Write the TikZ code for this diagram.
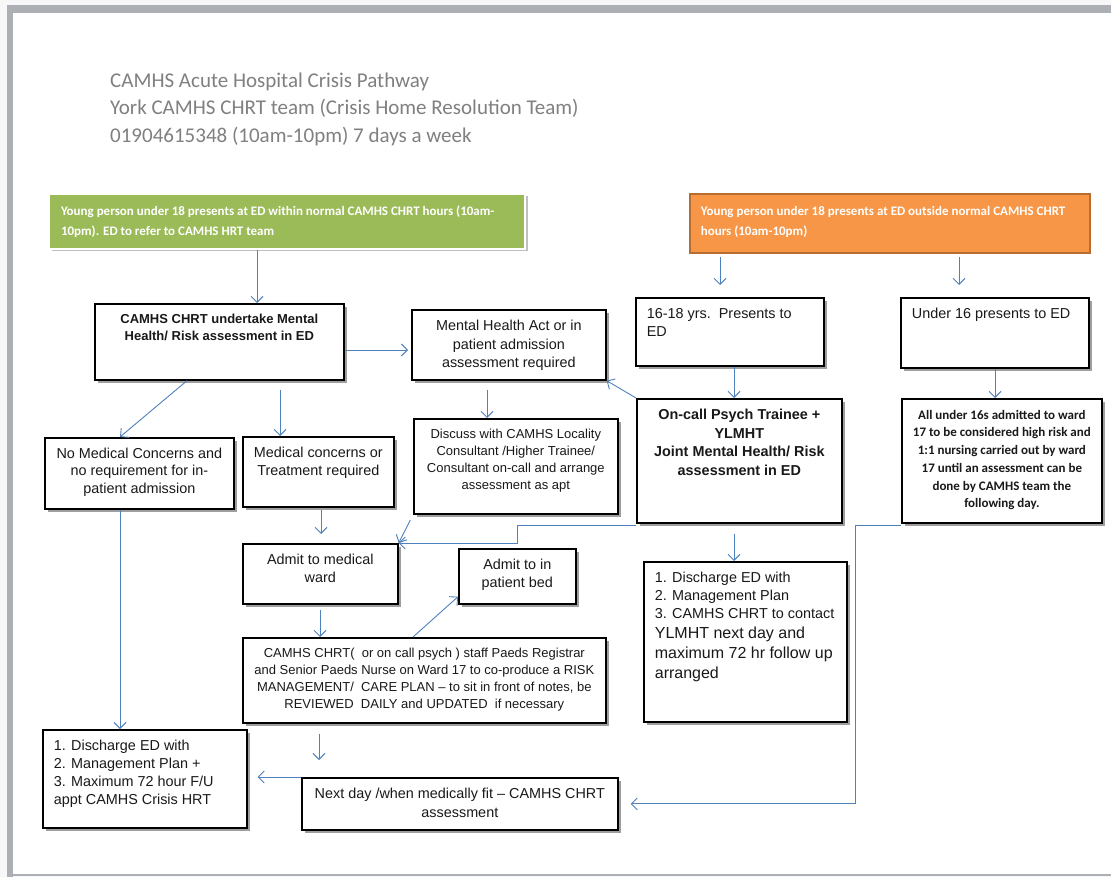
\documentclass[tikz,border=0pt]{standalone}
\usepackage{fontspec}
\setmainfont{Liberation Sans}
\newfontfamily\calibri{Carlito}
\usetikzlibrary{arrows.meta,shadows}

\definecolor{linkblue}{RGB}{79,129,189}
\definecolor{headgreen}{RGB}{155,187,89}
\definecolor{headorange}{RGB}{247,150,70}
\definecolor{orangeedge}{RGB}{182,109,49}
\definecolor{titlegray}{RGB}{128,128,128}
\definecolor{framegray}{RGB}{172,176,180}

% tekst w ramce: szerokosc, wysokosc, wyrownanie, tresc
\newcommand{\boxtext}[4]{\parbox[t][\dimexpr#2pt-16pt\relax][t]{\dimexpr#1pt-8pt\relax}{#3\strut#4}}
\newcommand{\lefttext}{\raggedright\leftskip=7pt\relax}

\tikzset{
    stepbox/.style={draw=black, line width=1.7pt, fill=white, anchor=north west,
        inner xsep=4pt, inner ysep=8pt, text=black!90,
        font=\fontsize{14.4}{18}\selectfont,
        general shadow={fill=black!38, shadow xshift=3pt, shadow yshift=-3pt}},
    headbox/.style={anchor=north west, inner xsep=4pt, inner ysep=8pt, text=white,
        font=\calibri\bfseries\fontsize{13}{20}\selectfont},
    link/.style={draw=linkblue, line width=0.9pt, -{Straight Barb[length=6pt,width=12pt]}},
}

\begin{document}
\begin{tikzpicture}[x=1pt, y=-1pt]
    % Ramka strony
    \useasboundingbox (0,0) rectangle (1111,877);
    \fill[gray!6] (0,0) rectangle (1111,877);
    \fill[white] (13,13) rectangle (1111,874);
    \fill[framegray] (7,5) rectangle (1111,13);
    \fill[framegray] (7,5) rectangle (13,877);
    \draw[framegray, line width=1.5pt] (13,875) -- (1111,875);
    % Tytul
    \node (title) [anchor=north west, inner sep=0pt, text=titlegray,
        font=\calibri\fontsize{21}{27.5}\selectfont] at (110,68)
        {\parbox[t]{520pt}{\strut CAMHS Acute Hospital Crisis Pathway\\
        York CAMHS CHRT team (Crisis Home Resolution Team)\\
        01904615348 (10am-10pm) 7 days a week}};
    % Naglowki
    \node (inhours) [headbox, fill=headgreen, draw=white, line width=2pt,
        general shadow={fill=black!25, shadow xshift=2.5pt, shadow yshift=-2.5pt}] at (48,193)
        {\boxtext{476}{55}{\raggedright\leftskip=8pt}{Young person under 18 presents at ED within normal CAMHS CHRT hours (10am-\\10pm). ED to refer to CAMHS HRT team}};
    \node (outhours) [headbox, fill=headorange, draw=orangeedge, line width=1.6pt] at (689,193)
        {\boxtext{400}{59}{\raggedright\leftskip=7pt}{Young person under 18 presents at ED outside normal CAMHS CHRT\\hours (10am-10pm)}};
    % Ramki
    \node (chrtassess) [stepbox, font=\bfseries\fontsize{13}{17}\selectfont] at (94,303)
        {\boxtext{249}{76}{\centering}{CAMHS CHRT undertake Mental\\Health/ Risk assessment in ED}};
    \node (mhact) [stepbox, font=\fontsize{14.4}{18.5}\selectfont] at (411,309)
        {\boxtext{194}{70}{\centering}{Mental Health Act or in\\patient admission\\assessment required}};
    \node (age1618) [stepbox] at (635,297)
        {\boxtext{188}{68}{\lefttext}{16-18 yrs.\ \ Presents to\\ED}};
    \node (under16) [stepbox] at (900,297)
        {\boxtext{188}{70}{\lefttext}{Under 16 presents to ED}};
    \node (oncall) [stepbox, font=\bfseries\fontsize{14.4}{18.5}\selectfont] at (636,398)
        {\boxtext{205}{124}{\centering}{On-call Psych Trainee +\\YLMHT\\Joint Mental Health/ Risk\\assessment in ED}};
    \node (allunder16) [stepbox, font=\calibri\bfseries\fontsize{13}{17.7}\selectfont] at (901,398)
        {\boxtext{200}{124}{\centering}{All under 16s admitted to ward\\17 to be considered high risk and\\1:1 nursing carried out by ward\\17 until an assessment can be\\done by CAMHS team the\\following day.}};
    \node (discuss) [stepbox, font=\fontsize{13}{17}\selectfont] at (413,418)
        {\boxtext{204}{95}{\centering}{Discuss with CAMHS Locality\\Consultant /Higher Trainee/\\Consultant on-call and arrange\\assessment as apt}};
    \node (nomedical) [stepbox, font=\fontsize{14.4}{17.5}\selectfont] at (44,437)
        {\boxtext{189}{71}{\centering}{No Medical Concerns and\\no requirement for in-\\patient admission}};
    \node (medical) [stepbox] at (242,436)
        {\boxtext{151}{70}{\centering}{Medical concerns or\\Treatment required}};
    \node (admitmed) [stepbox] at (242,543)
        {\boxtext{155}{60}{\centering}{Admit to medical\\ward}};
    \node (admitbed) [stepbox] at (458,548)
        {\boxtext{117}{55}{\centering}{Admit to in\\patient bed}};
    \node (discharge2) [stepbox] at (643,561)
        {\boxtext{203}{160}{\lefttext}{1. Discharge ED with\\2. Management Plan\\3. CAMHS CHRT to contact\par
        \fontsize{16}{20}\selectfont YLMHT next day and\\maximum 72 hr follow up\\arranged}};
    \node (careplan) [stepbox, font=\fontsize{13}{17}\selectfont] at (242,637)
        {\boxtext{363}{85}{\centering}{CAMHS CHRT(\ \ or on call psych ) staff Paeds Registrar\\and Senior Paeds Nurse on Ward 17 to co-produce a RISK\\MANAGEMENT/\ \ CARE PLAN -- to sit in front of notes, be\\REVIEWED\ \ DAILY and UPDATED\ \ if necessary}};
    \node (discharge1) [stepbox] at (42,729)
        {\boxtext{204}{98}{\lefttext}{1. Discharge ED with\\2. Management Plan +\\3. Maximum 72 hour F/U\\appt CAMHS Crisis HRT}};
    \node (nextday) [stepbox, font=\fontsize{14.4}{18.5}\selectfont] at (301,777)
        {\boxtext{316}{52}{\centering}{Next day /when medically fit -- CAMHS CHRT\\assessment}};
    % Strzalki
    \draw[link] (inhours.south -| 257,0) -- (chrtassess.north -| 257,0);
    \draw[link, shorten >=3pt] (chrtassess.east |- 0,350) -- (mhact.west |- 0,350);
    \draw[link, shorten <=3pt, shorten >=12pt] (outhours.south -| 720,0) -- (age1618.north -| 720,0);
    \draw[link, shorten <=3pt, shorten >=12pt] (outhours.south -| 959,0) -- (under16.north -| 959,0);
    \draw[link] (age1618.south -| 734,0) -- (oncall.north -| 734,0);
    \draw[link] (oncall.north west) -- (mhact.south east);
    \draw[link] (under16.south -| 995,0) -- (allunder16.north -| 995,0);
    \draw[link, shorten <=9pt] (mhact.south -| 487,0) -- (discuss.north -| 487,0);
    \draw[link] (chrtassess.south -| 187,0) -- (nomedical.north -| 120,0);
    \draw[link, shorten <=9pt] (chrtassess.south -| 280,0) -- (medical.north -| 280,0);
    \draw[link, shorten <=2pt, shorten >=9pt] (medical.south -| 321,0) -- (admitmed.north -| 321,0);
    \draw[link, shorten <=6pt] (discuss.south west) -- (admitmed.north east);
    \draw[link] ([yshift=-2pt]oncall.south west) -- ++(-119,0) |- (admitmed.north east);
    \draw[link] ([yshift=-2pt]allunder16.south west) -- ++(-46,0) |- ([xshift=12pt]nextday.east);
    \draw[link, shorten <=10pt] (oncall.south -| 734,0) -- (discharge2.north -| 734,0);
    \draw[link, shorten <=5pt] (admitmed.south -| 320,0) -- (careplan.north -| 320,0);
    \draw[link] (careplan.north -| 413,0) -- ([yshift=8pt]admitbed.south west);
    \draw[link, shorten <=10pt, shorten >=17pt] (careplan.south -| 319,0) -- (nextday.north -| 319,0);
    \draw[link] (nomedical.south -| 120,0) -- (discharge1.north -| 120,0);
    \draw[link, shorten >=10pt] (nextday.north west) -- (discharge1.east |- nextday.north west);
\end{tikzpicture}
\end{document}
